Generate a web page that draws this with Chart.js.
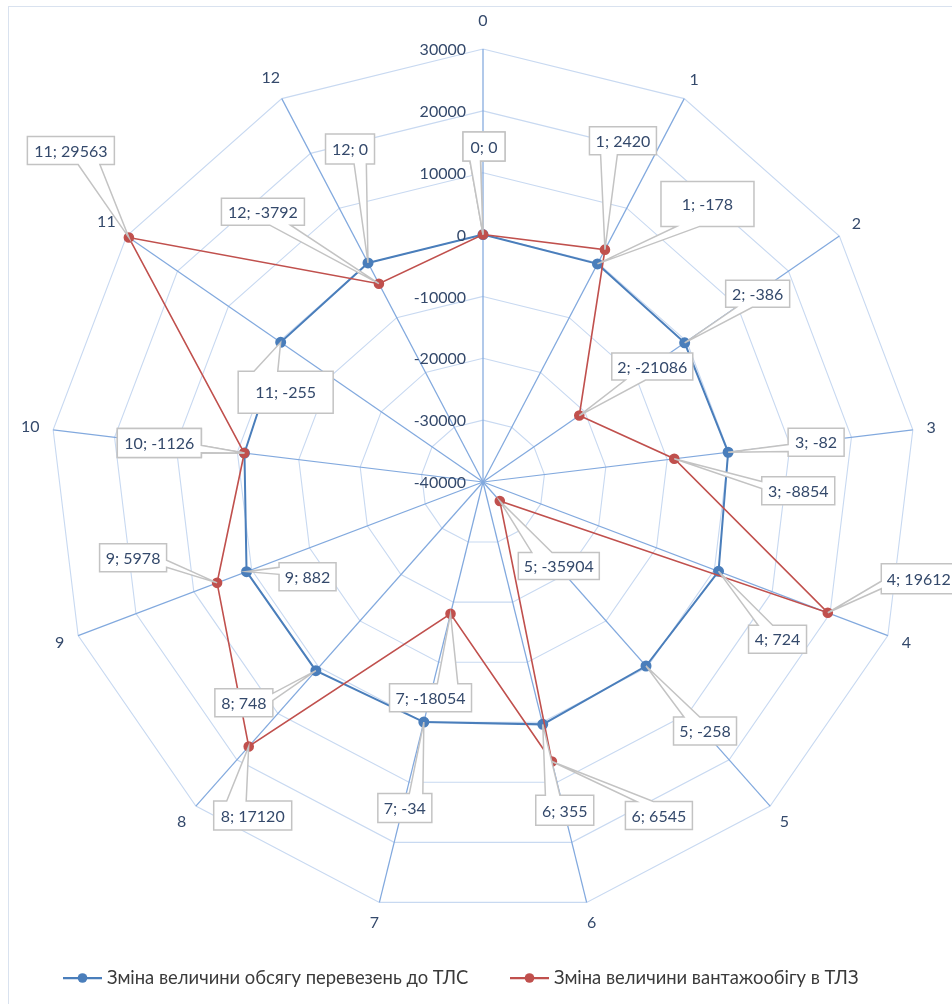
<!DOCTYPE html>
<html>
<head>
<meta charset="utf-8">
<script src="https://cdn.jsdelivr.net/npm/chart.js@4.4.1/dist/chart.umd.min.js"></script>
<style>
  html, body { margin: 0; padding: 0; background: #ffffff; }
  #wrap { position: relative; width: 952px; height: 1004px; overflow: hidden; }
  #frame { position: absolute; left: 8px; top: 6px; width: 1100px; height: 1200px; border: 1px solid #d9e2ef; }
  #c { position: absolute; left: 0; top: 0; }
</style>
</head>
<body>
<div id="wrap">
  <div id="frame"></div>
  <canvas id="c" width="952" height="1004"></canvas>
</div>
<script>
// Categories around the radar (0..12)
const categories = ['0', '1', '2', '3', '4', '5', '6', '7', '8', '9', '10', '11', '12'];

// Series values
const transportVolume = [0, -178, -386, -82, 724, -258, 355, -34, 748, 882, -1153, -255, 0];
const cargoTurnover = [0, 2420, -21086, -8854, 19612, -35904, 6545, -18054, 17120, 5978, -1126, 29563, -3792];

// Radial axis ticks
const tickValues = [-40000, -30000, -20000, -10000, 0, 10000, 20000, 30000];

const seriesNames = [
  'Зміна величини обсягу перевезень до ТЛС',
  'Зміна величини вантажообігу в ТЛЗ'
];

// Callout placement: [box centre dx, box centre dy, box width, box height] relative to each point
const transportCallouts = [
  [1, -88, 42, 29], [110, -60, 93, 45], [73, -49, 64, 27], [88, -10, 56, 28],
  [59, 68, 58, 28], [59, 65, 63, 28], [22, 86, 58, 30], [-19, 86, 54, 29],
  [-72, 32, 58, 28], [61, 5, 57, 28], [-85, -10, 84, 29], [5, 50, 95, 42],
  [-18, -114, 49, 30]
];
const turnoverCallouts = [
  [1, -88, 42, 29], [18, -109, 67, 28], [73, -49, 81, 27], [124, 32, 73, 28],
  [91, -34, 75, 30], [59, 65, 81, 27], [107, 54, 67, 28], [-20, 84, 82, 28],
  [4, 69, 78, 29], [-84, -25, 67, 28], [-85, -10, 84, 29], [-58, -87, 87, 28],
  [-116, -72, 83, 27]
];

const BLUE = '#4a7ebb';
const RED = '#c0504d';
const AXIS_TEXT = '#34496b';
const FONT = 'Lato, "Open Sans", sans-serif';

Chart.defaults.font.family = FONT;

// Tick labels, category labels, value callouts and the legend
const decorations = {
  id: 'decorations',
  afterDraw(chart) {
    const ctx = chart.ctx;
    const scale = chart.scales.r;
    const cx = scale.xCenter, cy = scale.yCenter;

    ctx.save();
    // radial tick labels, right-aligned beside the vertical axis
    ctx.font = '16px ' + FONT;
    ctx.fillStyle = AXIS_TEXT;
    ctx.textAlign = 'right';
    ctx.textBaseline = 'middle';
    tickValues.forEach(v => {
      const d = scale.getDistanceFromCenterForValue(v);
      ctx.fillText(String(v), cx - 17, cy - d + 1);
    });

    // category labels outside the outer ring
    ctx.textAlign = 'center';
    categories.forEach((lab, i) => {
      const a = scale.getIndexAngle(i) - Math.PI / 2;
      const c = Math.cos(a), s = Math.sin(a);
      const w = ctx.measureText(lab).width;
      const d = scale.drawingArea + 13 + Math.abs(c) * w / 2 + Math.abs(s) * 7 + (i === 0 ? 8 : 0);
      ctx.fillText(lab, cx + c * d, cy + s * d);
    });

    // callouts
    const drawCallout = (px, py, spec, text) => {
      const [dx, dy, w, h] = spec;
      const bx = px + dx, by = py + dy;
      const L = bx - w / 2, R = bx + w / 2, T = by - h / 2, B = by + h / 2;
      const tx = px - bx, ty = py - by;
      const dq = tx * h / w;
      const pts = [];
      const horiz = Math.abs(dq) > Math.abs(ty);
      const fx1 = tx > 0 ? 7 / 12 : 2 / 12, fx2 = tx > 0 ? 10 / 12 : 5 / 12;
      const fy1 = ty > 0 ? 7 / 12 : 2 / 12, fy2 = ty > 0 ? 10 / 12 : 5 / 12;
      pts.push([L, T]);
      if (!horiz && ty < 0) { pts.push([L + w * fx1, T], [px, py], [L + w * fx2, T]); }
      pts.push([R, T]);
      if (horiz && tx > 0) { pts.push([R, T + h * fy1], [px, py], [R, T + h * fy2]); }
      pts.push([R, B]);
      if (!horiz && ty > 0) { pts.push([L + w * fx2, B], [px, py], [L + w * fx1, B]); }
      pts.push([L, B]);
      if (horiz && tx < 0) { pts.push([L, T + h * fy2], [px, py], [L, T + h * fy1]); }
      ctx.beginPath();
      pts.forEach((p, k) => k ? ctx.lineTo(p[0], p[1]) : ctx.moveTo(p[0], p[1]));
      ctx.closePath();
      ctx.fillStyle = '#ffffff';
      ctx.fill();
      ctx.lineWidth = 1.5;
      ctx.strokeStyle = '#c3c3c3';
      ctx.lineJoin = 'miter';
      ctx.stroke();
      ctx.fillStyle = AXIS_TEXT;
      ctx.font = '16px ' + FONT;
      ctx.textAlign = 'center';
      ctx.textBaseline = 'middle';
      ctx.fillText(text, bx, by + 1);
    };

    const layouts = [transportCallouts, turnoverCallouts];
    [0, 1].forEach(di => {
      const meta = chart.getDatasetMeta(di);
      const vals = chart.data.datasets[di].data;
      meta.data.forEach((el, i) => {
        drawCallout(el.x, el.y, layouts[di][i], categories[i] + '; ' + vals[i]);
      });
    });

    // legend
    const legendY = 978;
    const items = [
      { x: 63, color: BLUE, text: seriesNames[0] },
      { x: 510, color: RED, text: seriesNames[1] }
    ];
    ctx.font = '18.4px ' + FONT;
    ctx.textAlign = 'left';
    ctx.textBaseline = 'middle';
    items.forEach(it => {
      ctx.strokeStyle = it.color;
      ctx.lineWidth = 2.25;
      ctx.beginPath();
      ctx.moveTo(it.x, legendY);
      ctx.lineTo(it.x + 39, legendY);
      ctx.stroke();
      ctx.fillStyle = it.color;
      ctx.beginPath();
      ctx.arc(it.x + 19.5, legendY, 4.8, 0, Math.PI * 2);
      ctx.fill();
      ctx.fillStyle = '#3a3a3a';
      ctx.fillText(it.text, it.x + 44, legendY);
    });
    ctx.restore();
  }
};

new Chart(document.getElementById('c'), {
  type: 'radar',
  data: {
    labels: categories,
    datasets: [
      {
        label: seriesNames[0],
        data: transportVolume,
        borderColor: BLUE,
        backgroundColor: BLUE,
        pointBackgroundColor: BLUE,
        pointBorderColor: BLUE,
        borderWidth: 2,
        pointRadius: 4.5,
        fill: false,
        order: 1
      },
      {
        label: seriesNames[1],
        data: cargoTurnover,
        borderColor: RED,
        backgroundColor: RED,
        pointBackgroundColor: RED,
        pointBorderColor: RED,
        borderWidth: 1.6,
        pointRadius: 4.5,
        fill: false,
        order: 0
      }
    ]
  },
  options: {
    responsive: false,
    animation: false,
    layout: { padding: { left: 50, right: 35, top: 48, bottom: 88 } },
    plugins: { legend: { display: false }, tooltip: { enabled: false } },
    elements: { line: { tension: 0 } },
    scales: {
      r: {
        min: tickValues[0],
        max: tickValues[tickValues.length - 1],
        ticks: { display: false, stepSize: 10000 },
        pointLabels: { display: false },
        grid: { color: '#c8d9f1', lineWidth: 1.1 },
        angleLines: { color: '#82a9de', lineWidth: 1.25 }
      }
    }
  },
  plugins: [decorations]
});
</script>
</body>
</html>
